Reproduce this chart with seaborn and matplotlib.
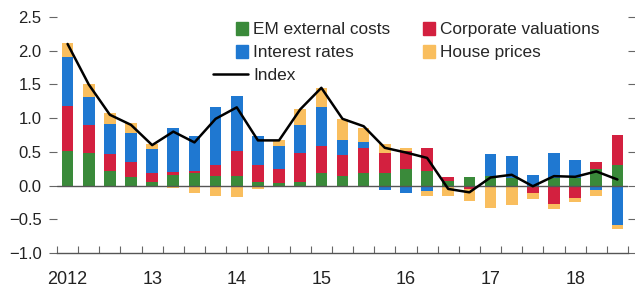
import numpy as np
import matplotlib
matplotlib.use("Agg")
import matplotlib.pyplot as plt
import seaborn as sns
from matplotlib.patches import Patch, Rectangle
from matplotlib.lines import Line2D
from matplotlib.legend_handler import HandlerPatch

# quarterly contributions, 2012Q1 - 2018Q3
quarters = [f"{y}Q{q}" for y in range(2012, 2019) for q in range(1, 5)][:27]
year_labels = ["2012", "13", "14", "15", "16", "17", "18"]

em_costs = [0.51, 0.48, 0.21, 0.12, 0.06, 0.15, 0.19, 0.14, 0.14, 0.06, 0.04, 0.06, 0.18, 0.14,
            0.18, 0.19, 0.24, 0.21, 0.07, 0.12, 0.14, 0.11, 0.00, 0.11, 0.11, 0.24, 0.31]
corp_val = [0.67, 0.42, 0.26, 0.23, 0.12, 0.05, 0.02, 0.16, 0.38, 0.24, 0.21, 0.42, 0.40, 0.32,
            0.37, 0.29, 0.27, 0.34, 0.05, -0.05, 0.00, 0.00, -0.11, -0.28, -0.18, 0.11, 0.44]
rates = [0.73, 0.42, 0.44, 0.43, 0.36, 0.65, 0.53, 0.86, 0.81, 0.44, 0.33, 0.42, 0.58, 0.22,
         0.09, -0.07, -0.11, -0.08, 0.00, 0.00, 0.33, 0.33, 0.16, 0.38, 0.27, -0.07, -0.58]
house = [0.21, 0.19, 0.16, 0.15, 0.08, -0.03, -0.11, -0.16, -0.17, -0.05, 0.09, 0.23, 0.28, 0.31,
         0.21, 0.13, 0.05, -0.07, -0.15, -0.18, -0.34, -0.29, -0.09, -0.07, -0.07, -0.09, -0.07]
index = [2.10, 1.50, 1.05, 0.90, 0.60, 0.80, 0.64, 0.99, 1.16, 0.67, 0.67, 1.13, 1.45, 0.99,
         0.88, 0.56, 0.49, 0.41, -0.05, -0.10, 0.12, 0.16, -0.01, 0.14, 0.13, 0.21, 0.09]

colors = {
    "EM external costs": "#3a8a3a",
    "Corporate valuations": "#d3203f",
    "Interest rates": "#1f78d1",
    "House prices": "#f9be5e",
}

sns.set_style("ticks")
plt.rcParams["font.family"] = ["Liberation Sans", "DejaVu Sans"]
plt.rcParams["axes.unicode_minus"] = True

fig = plt.figure(figsize=(6.35, 2.91), dpi=100)
ax = fig.add_axes([57 / 635, 1 - 253 / 291, (628 - 57) / 635, (253 - 17) / 291])

n = len(quarters)
pos_base = np.zeros(n)
neg_base = np.zeros(n)
for name, vals in [("EM external costs", em_costs), ("Corporate valuations", corp_val),
                   ("Interest rates", rates), ("House prices", house)]:
    v = np.array(vals)
    bottom = np.where(v >= 0, pos_base, neg_base)
    sns.barplot(x=quarters, y=v, bottom=bottom, order=quarters, color=colors[name],
                saturation=1, width=0.55, errorbar=None, linewidth=0, ax=ax)
    pos_base += np.clip(v, 0, None)
    neg_base += np.clip(v, None, 0)

sns.lineplot(x=np.arange(n), y=index, color="black", linewidth=1.8, ax=ax)
ax.axhline(0, color="#555555", linewidth=1.0, zorder=1)

ax.set_xlim(-0.5, n - 0.5)
ax.set_ylim(-1.0, 2.5)
ax.set_yticks(np.arange(-1.0, 2.51, 0.5))
ax.set_xticks(np.arange(-0.5, n, 1))
ax.set_xticklabels([])
ax.set_xticks(np.arange(0, n, 4), labels=year_labels, minor=True)
ax.set_xlabel("")
ax.set_ylabel("")

ax.tick_params(axis="x", which="major", direction="in", length=5, width=0.8, color="#666666")
ax.tick_params(axis="x", which="minor", length=0, pad=13, labelsize=13, labelcolor="#222222")
ax.tick_params(axis="y", left=True, right=True, direction="out", length=6, width=0.8,
               color="#666666", labelsize=12, labelcolor="#222222", pad=5)
for side in ["left", "right", "top"]:
    ax.spines[side].set_visible(False)
ax.spines["bottom"].set_color("#555555")
ax.spines["bottom"].set_linewidth(1.0)


def square_patch(legend, orig_handle, xdescent, ydescent, width, height, fontsize):
    s = 0.72 * fontsize
    return Rectangle((-xdescent + width - s, -ydescent + (height - s) / 2), s, s)


handles = [
    Patch(color=colors["EM external costs"], label="EM external costs"),
    Patch(color=colors["Interest rates"], label="Interest rates"),
    Line2D([], [], color="black", linewidth=1.8, label="Index"),
    Patch(color=colors["Corporate valuations"], label="Corporate valuations"),
    Patch(color=colors["House prices"], label="House prices"),
]
fig.legend(handles=handles, ncol=2, loc="upper left", bbox_to_anchor=(213 / 635, 1 - 22 / 291),
           frameon=False, fontsize=12.4, handlelength=2.03, handleheight=0.75, handletextpad=0.3,
           columnspacing=0.58, labelspacing=0.45, borderpad=0, borderaxespad=0,
           handler_map={Patch: HandlerPatch(patch_func=square_patch)})

fig.savefig("out.png", dpi=100)
